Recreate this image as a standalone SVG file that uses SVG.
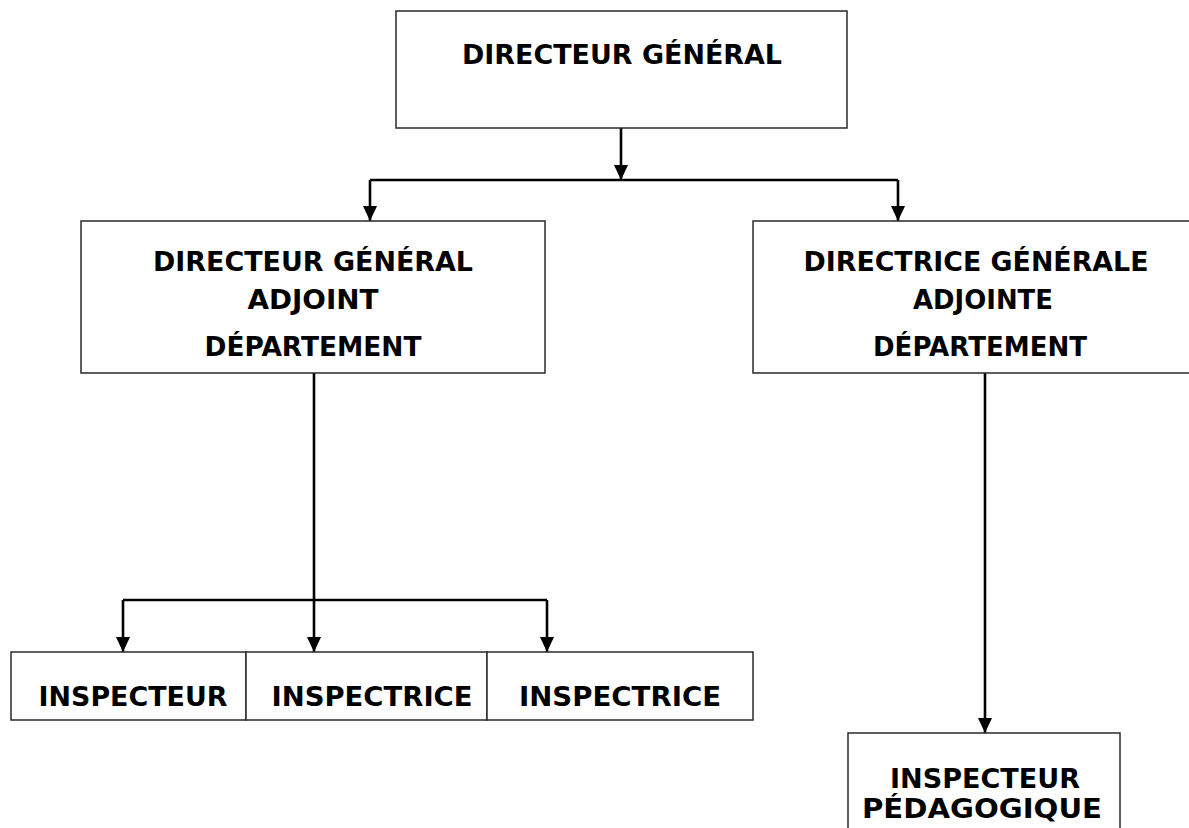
<svg xmlns="http://www.w3.org/2000/svg" width="1189" height="828" viewBox="0 0 1189 828">
<style>
.box{fill:#fff;stroke:#2a2a2a;stroke-width:1.5}
.t{font-family:"DejaVu Sans",Verdana,sans-serif;font-weight:bold;font-size:26px;fill:#000;text-anchor:middle}
.c{fill:none;stroke:#000;stroke-width:2.6}
</style>
<defs>
<marker id="ah" viewBox="0 0 15 14" refX="15" refY="7" markerWidth="15" markerHeight="14" markerUnits="userSpaceOnUse" orient="auto">
<path d="M0,0 L15,7 L0,14 z" fill="#000"/>
</marker>
</defs>
<rect width="1189" height="828" fill="#fff"/>
<g id="connectors">
<path class="c" d="M621,128 V180" marker-end="url(#ah)"/>
<path class="c" d="M370,180 H898"/>
<path class="c" d="M370,180 V221" marker-end="url(#ah)"/>
<path class="c" d="M898,180 V221" marker-end="url(#ah)"/>
<path class="c" d="M314,373 V652" marker-end="url(#ah)"/>
<path class="c" d="M123,600 H547"/>
<path class="c" d="M123,600 V652" marker-end="url(#ah)"/>
<path class="c" d="M547,600 V652" marker-end="url(#ah)"/>
<path class="c" d="M985,373 V733" marker-end="url(#ah)"/>
</g>
<g id="dg">
<rect class="box" x="396" y="11" width="451" height="117"/>
<text class="t" x="622" y="64" textLength="320" lengthAdjust="spacingAndGlyphs">DIRECTEUR GÉNÉRAL</text>
</g>
<g id="dga">
<rect class="box" x="81" y="221" width="464" height="152"/>
<text class="t" x="313" y="271" textLength="320" lengthAdjust="spacingAndGlyphs">DIRECTEUR GÉNÉRAL</text>
<text class="t" x="313" y="309" textLength="131" lengthAdjust="spacingAndGlyphs">ADJOINT</text>
<text class="t" x="313" y="356" textLength="217" lengthAdjust="spacingAndGlyphs">DÉPARTEMENT</text>
</g>
<g id="dgadj">
<rect class="box" x="753" y="221" width="444" height="152"/>
<text class="t" x="976" y="271" textLength="345" lengthAdjust="spacingAndGlyphs">DIRECTRICE GÉNÉRALE</text>
<text class="t" x="983" y="309" textLength="140" lengthAdjust="spacingAndGlyphs">ADJOINTE</text>
<text class="t" x="980" y="356" textLength="214" lengthAdjust="spacingAndGlyphs">DÉPARTEMENT</text>
</g>
<g id="insp1">
<rect class="box" x="11" y="652" width="235" height="68"/>
<text class="t" x="133" y="706" textLength="189" lengthAdjust="spacingAndGlyphs">INSPECTEUR</text>
</g>
<g id="insp2">
<rect class="box" x="246" y="652" width="241" height="68"/>
<text class="t" x="372" y="706" textLength="201" lengthAdjust="spacingAndGlyphs">INSPECTRICE</text>
</g>
<g id="insp3">
<rect class="box" x="487" y="652" width="266" height="68"/>
<text class="t" x="620" y="706" textLength="202" lengthAdjust="spacingAndGlyphs">INSPECTRICE</text>
</g>
<g id="inspped">
<rect class="box" x="848" y="733" width="272" height="110"/>
<text class="t" x="985" y="788" textLength="190" lengthAdjust="spacingAndGlyphs">INSPECTEUR</text>
<text class="t" x="982" y="818" textLength="240" lengthAdjust="spacingAndGlyphs">PÉDAGOGIQUE</text>
</g>
</svg>
